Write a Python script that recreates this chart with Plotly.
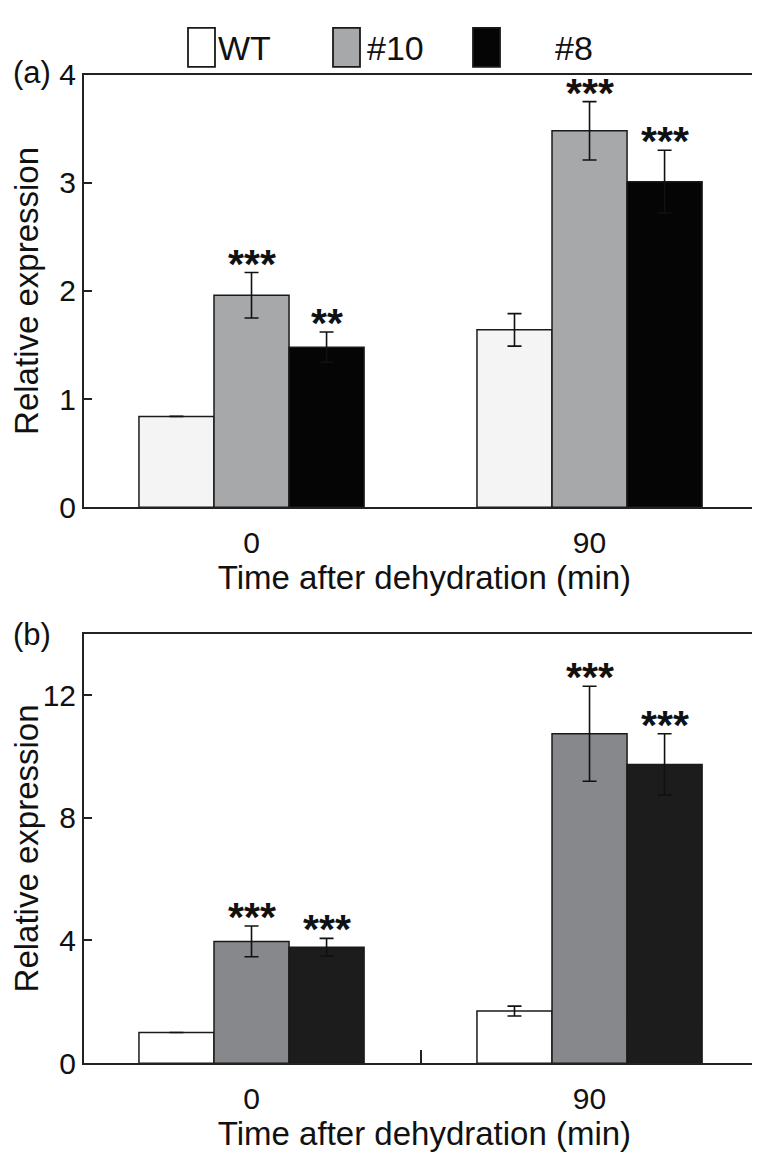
import plotly.graph_objects as go

# ---------------- data ----------------
times = ["0", "90"]
series = ["WT", "#10", "#8"]

# panel (a)
a_wt = [0.84, 1.64]
a_10 = [1.96, 3.48]
a_8 = [1.48, 3.01]
a_wt_err = [None, 0.15]
a_10_err = [0.21, 0.27]
a_8_err = [0.14, 0.29]
a_wt_sig = ["", ""]
a_10_sig = ["***", "***"]
a_8_sig = ["**", "***"]

# panel (b)
b_wt = [1.00, 1.70]
b_10 = [3.97, 10.74]
b_8 = [3.78, 9.74]
b_wt_err = [None, 0.16]
b_10_err = [0.50, 1.55]
b_8_err = [0.29, 1.00]
b_wt_sig = ["", ""]
b_10_sig = ["***", "***"]
b_8_sig = ["***", "***"]

a_ticks = [0, 1, 2, 3, 4]
b_ticks = [0, 4, 8, 12]

# ---------------- style ----------------
FONT = "Liberation Sans, Arial, Helvetica, sans-serif"
a_colors = ["#f4f4f4", "#a7a8aa", "#050505"]
b_colors = ["#ffffff", "#87888b", "#1c1c1c"]
BARGAP = 0.334
xpos = list(range(len(times)))

fig = go.Figure()

panels = [
    ("a", [a_wt, a_10, a_8], [a_wt_err, a_10_err, a_8_err], [a_wt_sig, a_10_sig, a_8_sig], a_colors, "x", "y"),
    ("b", [b_wt, b_10, b_8], [b_wt_err, b_10_err, b_8_err], [b_wt_sig, b_10_sig, b_8_sig], b_colors, "x2", "y2"),
]

annotations = []
nser = len(series)
bw = (1 - BARGAP) / nser
for pname, vals, errs, sigs, cols, xa, ya in panels:
    for k, name in enumerate(series):
        fig.add_trace(go.Bar(
            x=xpos, y=vals[k], name=name, xaxis=xa, yaxis=ya,
            marker=dict(color=cols[k], line=dict(color="#1a1a1a", width=1.5)),
            error_y=dict(type="data", array=errs[k], visible=True,
                         color="#111111", thickness=1.6, width=7),
            showlegend=False,
        ))
        off = (k - (nser - 1) / 2) * bw
        for i in range(len(times)):
            s = sigs[k][i]
            if not s:
                continue
            top = vals[k][i] + (errs[k][i] or 0)
            annotations.append(dict(
                x=xpos[i] + off, y=top, xref=xa, yref=ya, text="<b>" + s + "</b>",
                showarrow=False, yanchor="bottom", xanchor="center",
                yshift=-16, font=dict(family=FONT, size=41, color="#111111"),
            ))

axis_common = dict(showline=True, linewidth=2, linecolor="#222222", mirror=True,
                   showgrid=False, zeroline=False,
                   tickfont=dict(family=FONT, size=30, color="#111111"))
title_font = dict(family=FONT, size=33, color="#111111")

fig.update_layout(
    width=760, height=1158,
    margin=dict(l=0, r=0, t=0, b=0),
    paper_bgcolor="white", plot_bgcolor="white",
    barmode="group", bargap=BARGAP, bargroupgap=0,
    showlegend=False,
    xaxis=dict(domain=[0.1, 0.996], anchor="y", range=[-0.4956, 1.519],
               tickvals=xpos, ticktext=times, ticks="", ticklen=0,
               ticklabelstandoff=8,
               title=dict(text="Time after dehydration (min)", standoff=4, font=title_font),
               **axis_common),
    yaxis=dict(domain=[0.5708, 0.9551], anchor="x", range=[0, 4],
               tickvals=a_ticks, ticks="inside", ticklen=8, tickwidth=1.5,
               tickcolor="#222222",
               title=dict(text="Relative expression", standoff=16, font=title_font),
               **axis_common),
    xaxis2=dict(domain=[0.1, 0.996], anchor="y2", range=[-0.4956, 1.519],
                tickvals=xpos, ticktext=times, ticks="", ticklen=0,
                ticklabelstandoff=8,
                minor=dict(tickvals=[0.5], ticks="inside", ticklen=13,
                           tickwidth=1.5, tickcolor="#222222"),
                title=dict(text="Time after dehydration (min)", standoff=4, font=title_font),
                **axis_common),
    yaxis2=dict(domain=[0.0771, 0.4585], anchor="x2", range=[0, 14],
                tickvals=b_ticks, ticks="inside", ticklen=8, tickwidth=1.5,
                tickcolor="#222222",
                title=dict(text="Relative expression", standoff=10, font=title_font),
                **axis_common),
)

# panel labels
annotations.append(dict(x=0.004, y=1 - 50 / 1158, xref="paper", yref="paper",
                        text="(a)", showarrow=False, xanchor="left", yanchor="middle",
                        font=dict(family=FONT, size=31, color="#111111")))
annotations.append(dict(x=0.004, y=1 - 628 / 1158, xref="paper", yref="paper",
                        text="(b)", showarrow=False, xanchor="left", yanchor="middle",
                        font=dict(family=FONT, size=31, color="#111111")))

# manual legend (swatches + labels)
leg_x = [180, 325, 465]
leg_tx = [208, 357, 545]
shapes = []
for k, name in enumerate(series):
    x0 = leg_x[k] / 760
    x1 = (leg_x[k] + 27) / 760
    shapes.append(dict(type="rect", xref="paper", yref="paper",
                       x0=x0, x1=x1, y0=1 - 44 / 1158, y1=1 - 4 / 1158,
                       fillcolor=a_colors[k] if k else "#ffffff",
                       line=dict(color="#1a1a1a", width=1.8)))
    annotations.append(dict(x=leg_tx[k] / 760, y=1 - 25 / 1158, xref="paper", yref="paper",
                            text=name, showarrow=False, xanchor="left", yanchor="middle",
                            font=dict(family=FONT, size=34, color="#111111")))

fig.update_layout(annotations=annotations, shapes=shapes)
fig.write_html("out.html")
